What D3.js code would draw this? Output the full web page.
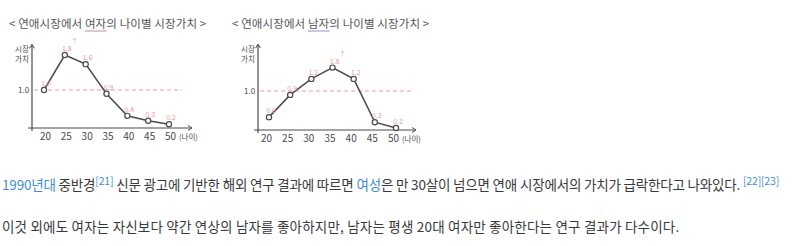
<!DOCTYPE html>
<html>
<head>
<meta charset="utf-8">
<script src="https://cdn.jsdelivr.net/npm/d3@7"></script>
<style>
  html, body { margin: 0; padding: 0; background: #fff; }
  svg { display: block; }
</style>
</head>
<body>
<svg id="chart" width="800" height="246"></svg>
<script>
// ages on the x axis (same for both sketches)
const ages = [20, 25, 30, 35, 40, 45, 50];
const femaleValues = [1.0, 1.92, 1.68, 0.9, 0.32, 0.19, 0.1];
const femaleLabels = ["1.0", "1.8", "1.6", "0.9", "0.4", "0.3", "0.2"];
const maleValues = [0.33, 0.9, 1.31, 1.6, 1.31, 0.2, 0.05];
const maleLabels = ["0.6", "0.9", "1.2", "1.8", "1.2", "0.3", "0.1"];

const titles = [
  ["< 연애시장에서 ", "여자", "의 나이별 시장가치 >"],
  ["< 연애시장에서 ", "남자", "의 나이별 시장가치 >"]
];

const svg = d3.select("#chart");
const ink = "#4a4a4a";
const pink = "#e79aa2";
const hand = "'Noto Sans CJK KR', sans-serif";

function sketch(opts) {
  const g = svg.append("g");
  const x = d3.scaleLinear().domain([20, 50]).range([opts.x0, opts.x1]);
  const y = d3.scaleLinear().domain([0, 2.2]).range([opts.base, opts.base - 2.2 * opts.unit]);

  // title
  const t = g.append("text")
    .attr("x", opts.titleX).attr("y", 28)
    .attr("font-family", hand).attr("font-size", 11.5)
    .attr("fill", "#555").attr("letter-spacing", 0.1);
  opts.title.forEach(s => t.append("tspan").text(s));
  // pink underline under the keyword
  const kw = t.selectAll("tspan").nodes()[1];
  const bb = kw.getBBox();
  g.append("line")
    .attr("x1", bb.x).attr("x2", bb.x + bb.width)
    .attr("y1", 31).attr("y2", 31)
    .attr("stroke", opts.ul).attr("stroke-width", 1.2);

  // axes
  g.append("line").attr("x1", opts.ax).attr("x2", opts.ax)
    .attr("y1", opts.base + 3).attr("y2", y(2.2))
    .attr("stroke", ink).attr("stroke-width", 1.2);
  g.append("path")
    .attr("d", `M${opts.ax - 2.5},${y(2.2) + 4}L${opts.ax},${y(2.2)}L${opts.ax + 2.5},${y(2.2) + 4}`)
    .attr("fill", "none").attr("stroke", ink);
  g.append("line").attr("x1", opts.ax - 4).attr("x2", opts.xEnd)
    .attr("y1", opts.base).attr("y2", opts.base)
    .attr("stroke", ink).attr("stroke-width", 1.2);
  g.append("path")
    .attr("d", `M${opts.xEnd - 4},${opts.base - 2.5}L${opts.xEnd},${opts.base}L${opts.xEnd - 4},${opts.base + 2.5}`)
    .attr("fill", "none").attr("stroke", ink);

  // y label
  ["시장", "가치"].forEach((s, i) => g.append("text")
    .attr("x", opts.ax - 17).attr("y", 52 + i * 10)
    .attr("font-family", hand).attr("font-size", 7.5).attr("fill", ink).text(s));

  // 1.0 reference
  g.append("text").attr("x", opts.ax - 14).attr("y", y(1) + 3)
    .attr("font-family", hand).attr("font-size", 8).attr("fill", ink).text("1.0");
  g.append("line").attr("x1", opts.ax + 2).attr("x2", opts.dashEnd)
    .attr("y1", y(1)).attr("y2", y(1))
    .attr("stroke", pink).attr("stroke-dasharray", "4,3").attr("stroke-width", 1);

  // x ticks
  const xa = g.append("g")
    .attr("transform", `translate(0,${opts.base})`)
    .call(d3.axisBottom(x).tickValues(ages).tickSize(0).tickPadding(5));
  xa.select(".domain").remove();
  xa.selectAll("text").attr("font-family", hand).attr("font-size", 10).attr("fill", ink);
  g.append("text").attr("x", x(50) + 9).attr("y", opts.base + 12)
    .attr("font-family", hand).attr("font-size", 7.5).attr("fill", ink).text("(나이)");

  // series
  const pts = ages.map((a, i) => [x(a) + opts.ptShift, y(opts.values[i])]);
  g.append("path").attr("d", d3.line()(pts))
    .attr("fill", "none").attr("stroke", ink).attr("stroke-width", 1.5);
  g.selectAll("circle.p").data(pts).join("circle")
    .attr("cx", d => d[0]).attr("cy", d => d[1]).attr("r", 2.6)
    .attr("fill", "#fff").attr("stroke", ink).attr("stroke-width", 1.2);
  g.selectAll("text.v").data(pts).join("text")
    .attr("x", d => d[0] + 2).attr("y", d => d[1] - 4)
    .attr("text-anchor", "middle")
    .attr("font-family", hand).attr("font-size", 7).attr("fill", pink)
    .text((d, i) => opts.labels[i]);
  // tiny arrow mark next to the peak
  const pk = d3.maxIndex(opts.values);
  g.append("text").attr("x", pts[pk][0] + 7).attr("y", pts[pk][1] - 12)
    .attr("font-family", hand).attr("font-size", 6).attr("fill", pink).text("↑");
}

sketch({
  title: titles[0], titleX: 9, ul: "#c9a0b4",
  x0: 45, x1: 170, ax: 32, base: 128, unit: 38, xEnd: 192, dashEnd: 182,
  ptShift: -1, values: femaleValues, labels: femaleLabels
});
sketch({
  title: titles[1], titleX: 232, ul: "#a9a0d4",
  x0: 266, x1: 393, ax: 258, base: 130, unit: 39, xEnd: 416, dashEnd: 412,
  ptShift: 3, values: maleValues, labels: maleLabels
});

// article text under the sketches
const link = "#3f8fd2";
const body = "#373a3c";
const font = "'Noto Sans CJK KR', sans-serif";
const p1 = svg.append("text").attr("x", 2).attr("y", 190)
  .attr("font-family", font).attr("font-size", 13.5).attr("letter-spacing", -0.18).attr("fill", body);
let sup = false;
[
  ["1990년대", link], [" 중반경", body], ["[21]", link, true],
  [" 신문 광고에 기반한 해외 연구 결과에 따르면 ", body], ["여성", link],
  ["은 만 30살이 넘으면 연애 시장에서의 가치가 급락한다고 나와있다. ", body],
  ["[22][23]", link, true]
].forEach(([s, c, isSup]) => {
  const ts = p1.append("tspan").text(s).attr("fill", c);
  if (isSup) ts.attr("font-size", 10.5).attr("dy", -5);
  else ts.attr("dy", sup ? 5 : 0);
  sup = !!isSup;
});

svg.append("text").attr("x", 2).attr("y", 232)
  .attr("font-family", font).attr("font-size", 13.5).attr("letter-spacing", 0.2).attr("fill", body)
  .text("이것 외에도 여자는 자신보다 약간 연상의 남자를 좋아하지만, 남자는 평생 20대 여자만 좋아한다는 연구 결과가 다수이다.");
</script>
</body>
</html>
